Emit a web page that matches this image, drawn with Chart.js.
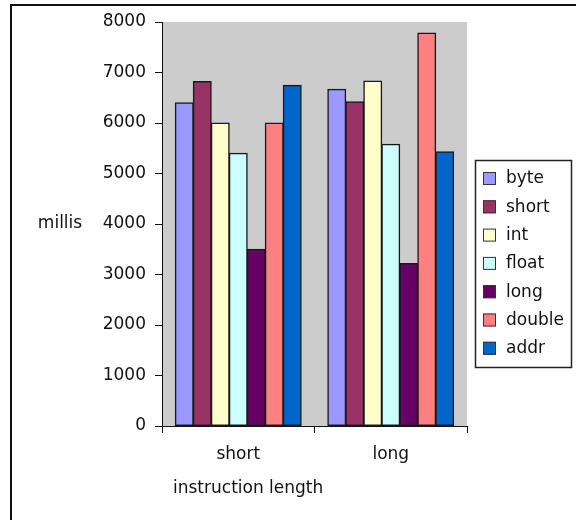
<!DOCTYPE html>
<html>
<head>
<meta charset="utf-8">
<script src="https://cdn.jsdelivr.net/npm/chart.js@4.4.1/dist/chart.umd.min.js"></script>
<style>
  html, body { margin: 0; padding: 0; background: #ffffff; }
  #wrap { width: 576px; height: 520px; }
</style>
</head>
<body>
<div id="wrap"><canvas id="c" width="576" height="520"></canvas></div>
<script>
// Instruction lengths on the category axis
const categories = ['short', 'long'];

// Operand types, one bar series each
const seriesNames = ['byte', 'short', 'int', 'float', 'long', 'double', 'addr'];

// Run time in milliseconds, per operand type: [short, long]
const byteMillis   = [6400, 6670];
const shortMillis  = [6820, 6420];
const intMillis    = [6000, 6830];
const floatMillis  = [5400, 5580];
const longMillis   = [3500, 3220];
const doubleMillis = [6000, 7780];
const addrMillis   = [6750, 5430];

const yTicks = [0, 1000, 2000, 3000, 4000, 5000, 6000, 7000, 8000];

const seriesValues = [byteMillis, shortMillis, intMillis, floatMillis, longMillis, doubleMillis, addrMillis];
const seriesColors = ['#9999ff', '#993366', '#ffffcc', '#ccffff', '#660066', '#ff8080', '#0066cc'];

const FONT = 'DejaVu Sans';
const FONT_SIZE = 17;
const TEXT = '#111111';

// Frame, plot background, horizontal axis titles and the boxed legend
const decorations = {
  id: 'decorations',
  beforeDraw(chart) {
    const { ctx, chartArea: a, width, height } = chart;
    ctx.save();
    ctx.fillStyle = '#ffffff';
    ctx.fillRect(0, 0, width, height);
    ctx.fillStyle = '#cccccc';
    ctx.fillRect(a.left, a.top, a.right - a.left, a.bottom - a.top);
    ctx.strokeStyle = '#111111';
    ctx.lineWidth = 2;
    ctx.beginPath();
    ctx.moveTo(width, 5);
    ctx.lineTo(11, 5);
    ctx.lineTo(11, height);
    ctx.stroke();
    ctx.restore();
  },
  afterDraw(chart) {
    const { ctx, chartArea: a } = chart;
    ctx.save();
    ctx.fillStyle = TEXT;
    ctx.font = FONT_SIZE + 'px "' + FONT + '"';
    ctx.textBaseline = 'middle';

    // y axis title, written horizontally beside the scale
    ctx.textAlign = 'center';
    ctx.fillText('millis', 60, (a.top + a.bottom) / 2);

    // x axis title
    ctx.textAlign = 'left';
    ctx.fillText('instruction length', a.left + 11, 489);

    // legend
    const lx = 475, ly = 160, lw = 96, lh = 207;
    ctx.strokeStyle = '#222222';
    ctx.lineWidth = 1.5;
    ctx.strokeRect(lx + 0.5, ly + 0.5, lw, lh);
    ctx.lineWidth = 1;
    chart.data.datasets.forEach((ds, i) => {
      const cy = 178 + i * 28.3;
      ctx.fillStyle = ds.backgroundColor;
      ctx.fillRect(483, cy - 6, 13, 13);
      ctx.strokeStyle = '#333333';
      ctx.strokeRect(483.5, cy - 5.5, 12, 12);
      ctx.fillStyle = TEXT;
      ctx.fillText(ds.label, 506, cy + 1);
    });
    ctx.restore();
  }
};

new Chart(document.getElementById('c'), {
  type: 'bar',
  data: {
    labels: categories,
    datasets: seriesNames.map((name, i) => ({
      label: name,
      data: seriesValues[i],
      backgroundColor: seriesColors[i],
      borderColor: '#1a1a1a',
      borderWidth: 1.5,
      borderSkipped: false,
      inflateAmount: 0.5,
      categoryPercentage: 0.826,
      barPercentage: 1.0
    }))
  },
  options: {
    responsive: false,
    animation: false,
    devicePixelRatio: 1,
    layout: { padding: { left: 0, right: 109, top: 22, bottom: 0 } },
    plugins: {
      legend: { display: false },
      tooltip: { enabled: false }
    },
    scales: {
      x: {
        grid: {
          offset: true,
          drawOnChartArea: false,
          drawTicks: true,
          tickLength: 7,
          color: '#111111'
        },
        border: { color: '#111111', width: 1 },
        ticks: {
          color: TEXT,
          font: { family: FONT, size: FONT_SIZE },
          padding: 11,
          maxRotation: 0
        },
        afterFit(scale) { scale.height = 94; }
      },
      y: {
        min: 0,
        max: 8000,
        afterBuildTicks(scale) { scale.ticks = yTicks.map(v => ({ value: v })); },
        grid: {
          drawOnChartArea: false,
          drawTicks: true,
          tickLength: 7,
          color: '#111111'
        },
        border: { color: '#111111', width: 1 },
        ticks: {
          color: TEXT,
          font: { family: FONT, size: FONT_SIZE },
          padding: 9,
          callback: (v) => String(v)
        },
        afterFit(scale) { scale.width = 162; }
      }
    }
  },
  plugins: [decorations]
});
</script>
</body>
</html>
